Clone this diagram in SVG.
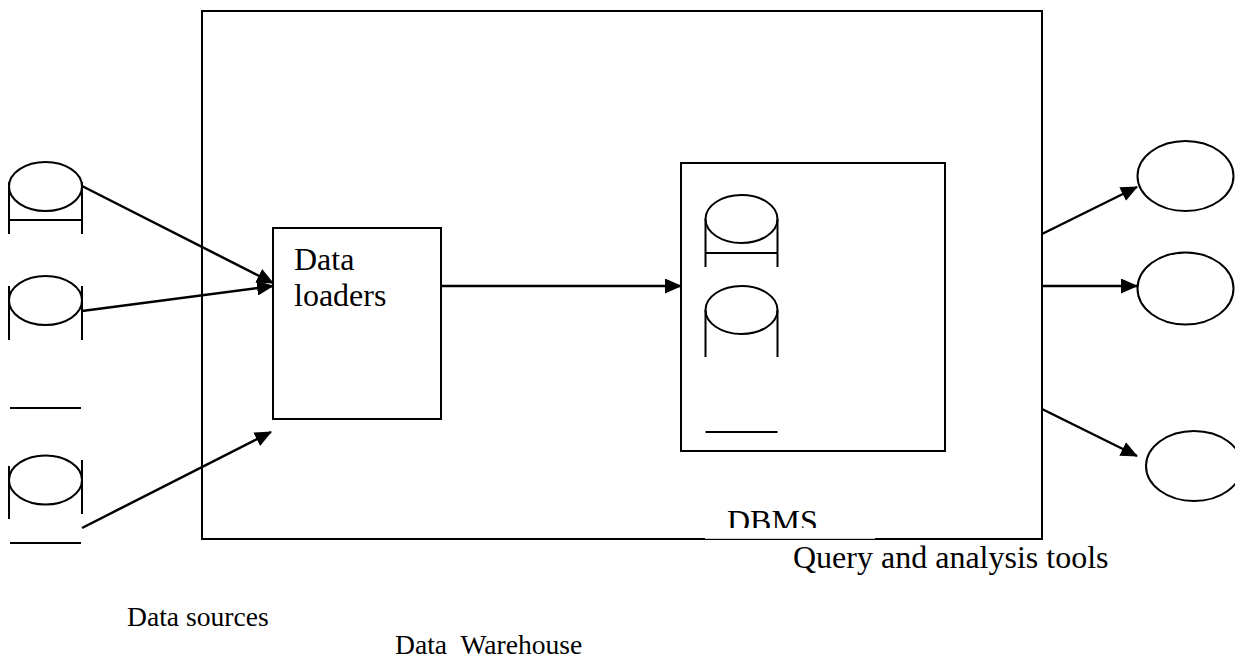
<svg xmlns="http://www.w3.org/2000/svg" width="1235" height="659" viewBox="0 0 1235 659">
<defs>
<style>
.s{fill:none;stroke:#000;stroke-width:2}
.b{fill:#fff;stroke:#000;stroke-width:2}
.t{font-family:"Liberation Serif","Times New Roman",serif;font-size:32px;fill:#000}
.t2{font-family:"Liberation Serif","Times New Roman",serif;font-size:27.6px;fill:#000}
</style>
<marker id="ah" markerWidth="17" markerHeight="15" refX="16" refY="7.5" orient="auto" markerUnits="userSpaceOnUse">
<path d="M0,0 L17,7.5 L0,15 Z" fill="#000"/>
</marker>
<clipPath id="dbclip"><rect x="700" y="490" width="180" height="38"/></clipPath>
</defs>
<rect width="1235" height="659" fill="#fff"/>
<g id="warehouse">
<rect class="b" x="202" y="11" width="840" height="528" stroke-width="2.5"/>
</g>
<g id="loaders">
<rect class="b" x="273" y="228" width="168" height="191"/>
<text class="t" x="294" y="270">Data</text>
<text class="t" x="294" y="306">loaders</text>
</g>
<g id="dbms">
<rect class="b" x="681" y="163" width="264" height="288"/>
<ellipse class="s" cx="741.5" cy="219" rx="36" ry="24"/>
<path class="s" d="M705.5,219 V267 M777.5,219 V267 M705.5,253 H777.5"/>
<ellipse class="s" cx="741.5" cy="310" rx="36" ry="24"/>
<path class="s" d="M705.5,310 V357 M777.5,310 V357"/>
<path class="s" d="M705.5,432 H777.5"/>
<rect x="705" y="528" width="170" height="10.8" fill="#fff"/>
<text class="t" x="727" y="532" clip-path="url(#dbclip)">DBMS</text>
</g>
<g id="source1">
<ellipse class="s" cx="45.5" cy="186.5" rx="36.5" ry="24.5"/>
<path class="s" d="M9,182 V234 M82,182 V234 M9,220 H82"/>
</g>
<g id="source2">
<ellipse class="s" cx="45.5" cy="300.5" rx="36.5" ry="24.5"/>
<path class="s" d="M9,286 V340 M82,286 V340"/>
</g>
<g id="source3">
<path class="s" d="M10,408 H81"/>
<ellipse class="s" cx="45.5" cy="480" rx="36.5" ry="24.5"/>
<path class="s" d="M9,466 V519 M82,460 V514 M10,543 H81"/>
</g>
<g id="tool1"><ellipse class="s" cx="1185.5" cy="176" rx="48" ry="35"/></g>
<g id="tool2"><ellipse class="s" cx="1185.5" cy="288.5" rx="48" ry="36"/></g>
<g id="tool3"><ellipse class="s" cx="1194" cy="466" rx="48" ry="35"/></g>
<g id="connectors" stroke="#000" stroke-width="2.5" fill="none">
<line x1="82" y1="186" x2="273" y2="283" marker-end="url(#ah)"/>
<line x1="82" y1="311" x2="273" y2="286" marker-end="url(#ah)"/>
<line x1="82" y1="528" x2="271" y2="432" marker-end="url(#ah)"/>
<line x1="441" y1="286" x2="681" y2="286" marker-end="url(#ah)"/>
<line x1="1042" y1="234" x2="1137" y2="187" marker-end="url(#ah)"/>
<line x1="1042" y1="286" x2="1137" y2="286" marker-end="url(#ah)"/>
<line x1="1042" y1="409" x2="1137" y2="456" marker-end="url(#ah)"/>
</g>
<g id="labels">
<text class="t" x="793" y="568">Query and analysis tools</text>
<text class="t2" x="127" y="626">Data sources</text>
<text class="t2" x="395" y="654" xml:space="preserve">Data  Warehouse</text>
</g>
</svg>
